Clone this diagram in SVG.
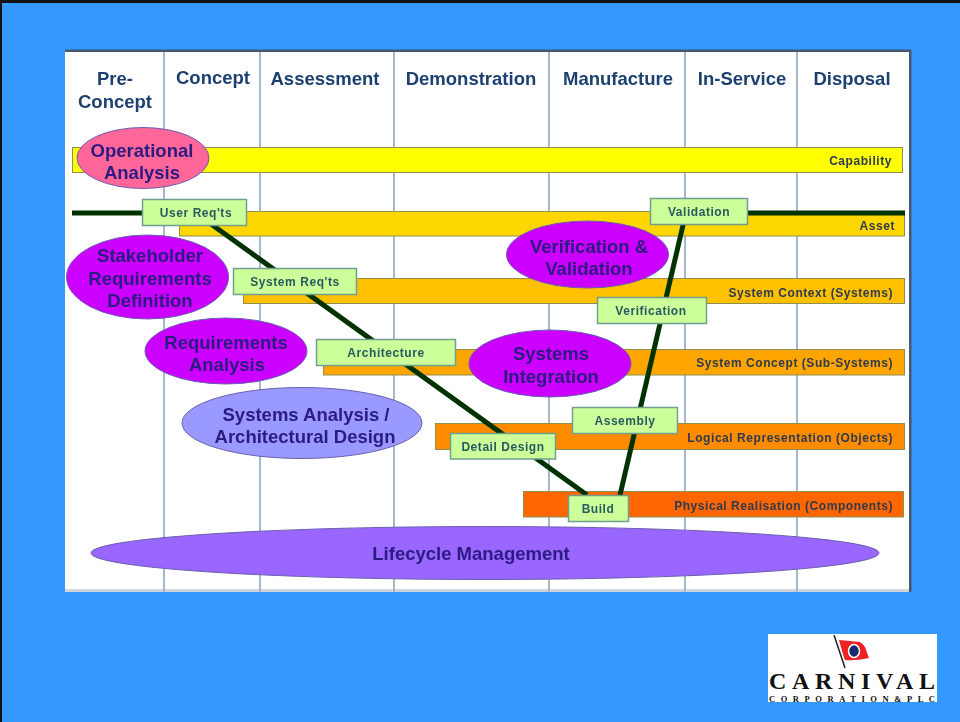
<svg xmlns="http://www.w3.org/2000/svg" width="960" height="722" viewBox="0 0 960 722">
<defs>
<filter id="soft" x="-2%" y="-2%" width="104%" height="104%"><feGaussianBlur stdDeviation="0.7"/></filter>
</defs>
<style>
text{font-family:"Liberation Sans",Arial,sans-serif;text-anchor:middle}
.ph{font-size:18.500px;font-weight:bold;fill:#1c4070}
.bar{stroke:#8f8f50;stroke-width:1}
.bl{font-size:12px;letter-spacing:.55px;font-weight:bold;fill:#2f3a50;text-anchor:end}
.el{stroke:#6a5fb0;stroke-width:1}
.et{font-size:18.500px;font-weight:bold;fill:#2c1a80}
.box{fill:#ccff99;stroke:#6f9f90;stroke-width:1.500}
.bt{font-size:12px;letter-spacing:.55px;font-weight:bold;fill:#2a5a60}
.vl{stroke:#a5b8cc;stroke-width:2}
.ln{stroke:#003300;stroke-width:5;fill:none}
.logo{font-family:"Liberation Serif",serif;fill:#111;font-weight:bold}
</style>
<rect width="960" height="722" fill="#3399ff"/>
<path d="M1 0V722" stroke="#111" fill="none" stroke-width="2"/>
<path d="M0 1.500H960" stroke="#111" fill="none" stroke-width="3"/>
<g filter="url(#soft)">
<path d="M65 51H910V592" fill="none" stroke="#45586f" stroke-width="3"/>
<rect id="panel" x="65" y="52" width="844" height="540" fill="#ffffff"/>
<rect x="65" y="589" width="844" height="3" fill="#d0d6dc"/>
<g id="phases">
<path class="vl" d="M164 52V592M260 52V592M394 52V592M549 52V592M685 52V592M797 52V592"/>
<text class="ph" x="115" y="85">Pre-</text>
<text class="ph" x="115" y="108">Concept</text>
<text class="ph" x="213" y="84">Concept</text>
<text class="ph" x="325" y="85">Assessment</text>
<text class="ph" x="471" y="85">Demonstration</text>
<text class="ph" x="618" y="85">Manufacture</text>
<text class="ph" x="742" y="85">In-Service</text>
<text class="ph" x="852" y="85">Disposal</text>
</g>
<g id="bars">
<g id="bar-capability"><rect class="bar" x="72.500" y="147.500" width="830" height="25" fill="#ffff00"/><text class="bl" x="892" y="165">Capability</text></g>
<g id="bar-asset"><rect class="bar" x="179.500" y="211.500" width="725" height="24.500" fill="#ffd700"/><text class="bl" x="895" y="230">Asset</text></g>
<g id="bar-context"><rect class="bar" x="243.500" y="278.500" width="661" height="25" fill="#ffc000"/><text class="bl" x="893" y="297">System Context (Systems)</text></g>
<g id="bar-concept"><rect class="bar" x="323.500" y="349.500" width="581" height="25.500" fill="#ffa500"/><text class="bl" x="893" y="367">System Concept (Sub-Systems)</text></g>
<g id="bar-logical"><rect class="bar" x="435.500" y="423.500" width="469" height="26" fill="#ff8c00"/><text class="bl" x="893" y="442">Logical Representation (Objects)</text></g>
<g id="bar-physical"><rect class="bar" x="523.500" y="491.500" width="380" height="25.500" fill="#ff6600"/><text class="bl" x="893" y="510">Physical Realisation (Components)</text></g>
</g>
<g id="connectors">
<path class="ln" d="M72 213H142"/>
<path class="ln" d="M211 224L587 495"/>
<path class="ln" d="M684 221L620 495"/>
<path class="ln" d="M748 213H905"/>
</g>
<g id="operational-analysis"><ellipse class="el" cx="143" cy="158" rx="66" ry="30.500" fill="#ff6699"/><text class="et" x="142" y="157">Operational</text><text class="et" x="142" y="179">Analysis</text></g>
<g id="stakeholder-requirements"><ellipse class="el" cx="147.500" cy="277" rx="81" ry="42" fill="#cc00ff"/><text class="et" x="150" y="262">Stakeholder</text><text class="et" x="150" y="285">Requirements</text><text class="et" x="150" y="307">Definition</text></g>
<g id="requirements-analysis"><ellipse class="el" cx="226" cy="351" rx="81" ry="33" fill="#cc00ff"/><text class="et" x="226" y="349">Requirements</text><text class="et" x="227" y="371">Analysis</text></g>
<g id="systems-analysis"><ellipse class="el" cx="302" cy="423" rx="120" ry="35.500" fill="#9999ff"/><text class="et" x="306" y="421">Systems Analysis /</text><text class="et" x="305" y="443">Architectural Design</text></g>
<g id="verification-validation"><ellipse class="el" cx="587.500" cy="254.500" rx="81" ry="33.500" fill="#cc00ff"/><text class="et" x="589" y="253">Verification &amp;</text><text class="et" x="589" y="275">Validation</text></g>
<g id="systems-integration"><ellipse class="el" cx="550" cy="363.500" rx="81" ry="33.500" fill="#cc00ff"/><text class="et" x="551" y="360">Systems</text><text class="et" x="551" y="383">Integration</text></g>
<g id="lifecycle-management"><ellipse class="el" cx="485" cy="553" rx="394" ry="26.500" fill="#9966ff"/><text class="et" x="471" y="560">Lifecycle Management</text></g>
<g id="user-reqs"><rect class="box" x="142.500" y="199.500" width="104" height="26"/><text class="bt" x="196" y="217">User Req'ts</text></g>
<g id="system-reqs"><rect class="box" x="233.500" y="268.500" width="123" height="26"/><text class="bt" x="295" y="286">System Req'ts</text></g>
<g id="architecture"><rect class="box" x="316.500" y="339.500" width="139" height="26"/><text class="bt" x="386" y="357">Architecture</text></g>
<g id="detail-design"><rect class="box" x="450.500" y="433.500" width="105" height="25.500"/><text class="bt" x="503" y="451">Detail Design</text></g>
<g id="build"><rect class="box" x="568.500" y="495.500" width="60" height="26"/><text class="bt" x="598" y="513">Build</text></g>
<g id="assembly"><rect class="box" x="572.500" y="407.500" width="105" height="26"/><text class="bt" x="625" y="425">Assembly</text></g>
<g id="verification"><rect class="box" x="597.500" y="297.500" width="109" height="26"/><text class="bt" x="651" y="315">Verification</text></g>
<g id="validation"><rect class="box" x="650.500" y="198.500" width="97" height="26"/><text class="bt" x="699" y="216">Validation</text></g>
</g>
<g id="logo">
<rect x="768" y="634" width="169" height="68" fill="#ffffff"/>
<path d="M834 635L845 668" stroke="#222" stroke-width="1.500"/>
<path d="M839 640L860 642Q865 645 866 650L869 658Q855 661 845 660Q843 655 839 640Z" fill="#ee2222"/>
<ellipse cx="854" cy="651" rx="5.500" ry="6.500" fill="#1a2a70" stroke="#fff" stroke-width="1.500"/>
<text class="logo" x="852" y="689" font-size="24" textLength="166" lengthAdjust="spacing">CARNIVAL</text>
<text class="logo" x="852" y="702" font-size="8.500" textLength="166" lengthAdjust="spacing">CORPORATION&amp;PLC</text>
</g>
</svg>
